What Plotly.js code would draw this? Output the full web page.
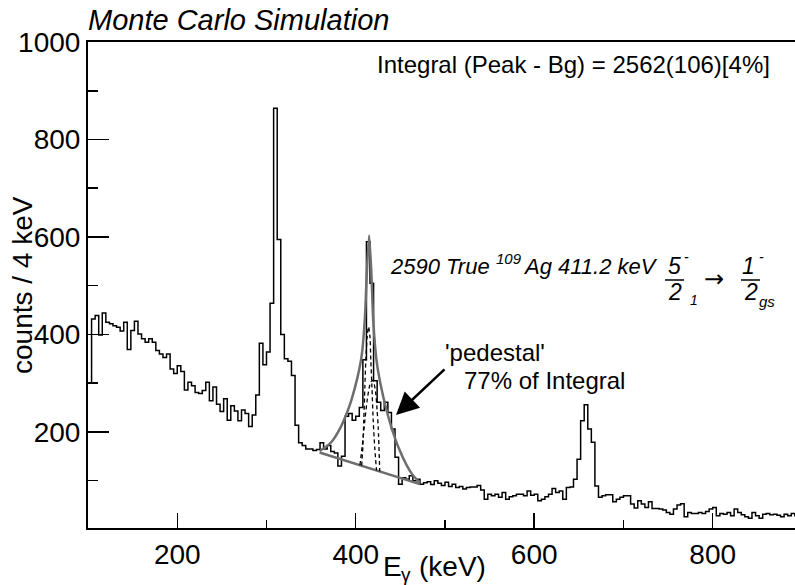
<!DOCTYPE html>
<html>
<head>
<meta charset="utf-8">
<script src="https://cdn.plot.ly/plotly-3.0.1.min.js"></script>
<style>html,body{margin:0;padding:0;background:#fff;}#chart{width:795px;height:585px;}</style>
</head>
<body>
<div id="chart"></div>
<script>
// ---- histogram (4 keV bins starting at 100 keV) ----
const binLow = 100;
const binWidth = 4;
const counts = [
 300,432,439,399,444,425,422,418,415,407,
 425,369,408,427,401,391,384,391,384,367,
 360,353,360,329,320,336,324,286,302,295,
 281,279,285,302,264,292,257,242,268,224,
 254,243,223,245,238,211,235,276,382,338,
 364,464,864,595,400,350,345,316,214,178,
 172,165,165,162,164,178,165,172,160,
 157,130,150,232,238,224,232,250,348,590,
 505,305,261,244,261,240,206,148,93,106,
 103,110,100,103,93,96,98,92,100,95,
 90,97,88,93,86,88,83,86,87,87,
 90,81,62,72,69,72,66,76,62,67,
 69,72,72,69,79,70,72,59,62,67,
 72,84,76,79,62,86,87,103,144,223,
 256,206,179,89,66,69,71,71,57,62,
 66,69,69,52,44,59,52,45,57,43,
 43,42,40,35,31,42,50,53,26,35,
 33,33,35,33,37,42,45,28,33,31,
 35,28,42,35,30,26,23,35,28,23,
 31,33,30,31,29,26,31,28,33,28
];

// ---- fit curves (keV, counts) ----
const fitE = [359.5, 365.4, 373.0, 382.3, 389.8, 395.4, 402.1, 406.7, 410.3, 412.6, 415.0, 417.4, 419.6, 423.3, 427.8, 434.6, 440.1, 447.7, 457.0, 464.5, 471.9];
const fitC = [161, 168, 180, 207, 238, 267, 313, 357, 435, 533, 603, 531, 429, 347, 298, 244, 209, 169, 132, 110, 96];
const bgE = [359.5, 471.9];
const bgC = [158, 93];
const narrowE = [406.6, 408.0, 409.0, 410.2, 411.3, 412.8, 414.4, 415.9, 416.9, 418.2, 419.6, 421.4, 423.3];
const narrowC = [131, 170, 223, 290, 347, 395, 416, 395, 347, 290, 223, 165, 121];
const broadE = [404.7, 407.5, 410.2, 412.8, 415.1, 417.0, 418.9, 420.7, 422.5, 423.9, 425.2, 426.9];
const broadC = [132, 175, 223, 265, 291, 303, 306, 298, 278, 245, 209, 119];

// ---- texts ----
const titleText = 'Monte Carlo Simulation';
const yTitle = 'counts / 4 keV';
const integralText = 'Integral (Peak - Bg) = 2562(106)[4%]';
const pedestalText = '\'pedestal\'';
const pctText = '77% of Integral';

const edges = counts.map((_, i) => binLow + i * binWidth);
edges.push(binLow + counts.length * binWidth);
const stepY = counts.concat([counts[counts.length - 1]]);

const FONT = 'Liberation Sans, Arial, Helvetica, sans-serif';
const GRAY = '#6e6e6e';

const traces = [
  {x: edges, y: stepY, type: 'scatter', mode: 'lines', line: {shape: 'hv', color: '#000', width: 1.5}, hoverinfo: 'skip'},
  {x: bgE, y: bgC, type: 'scatter', mode: 'lines', line: {color: GRAY, width: 2.5}},
  {x: narrowE, y: narrowC, type: 'scatter', mode: 'lines', line: {color: '#000', width: 1.3, dash: '4px,3px', shape: 'spline', smoothing: 0.8}},
  {x: broadE, y: broadC, type: 'scatter', mode: 'lines', line: {color: '#000', width: 1.3, dash: '4px,3px', shape: 'spline', smoothing: 0.8}},
  {x: fitE, y: fitC, type: 'scatter', mode: 'lines', line: {color: GRAY, width: 2.5, shape: 'spline', smoothing: 0.6}}
];

const L = 88, T = 42, W = 707, H = 486;
const px = x => (x - L) / W;
const py = y => (T + H - y) / H;

function ann(text, x, y, opts) {
  return Object.assign({text: text, xref: 'paper', yref: 'paper', x: px(x), y: py(y),
    xanchor: 'left', yanchor: 'middle', showarrow: false,
    font: {family: FONT, size: 24, color: '#000'}}, opts || {});
}
const ital = (s) => ({family: FONT, size: s, color: '#000', style: 'italic'});
const upr = (s) => ({family: FONT, size: s, color: '#000'});

const annotations = [
  ann(integralText, 772, 65, {xanchor: 'right'}),
  // 2590 True 109Ag 411.2 keV 5-/2_1 -> 1-/2_gs
  ann('2590 True', 388, 266, {font: ital(22)}),
  ann('109', 494, 258, {font: ital(15)}),
  ann('Ag 411.2 keV', 521, 266, {font: ital(22)}),
  ann('5', 666, 266, {font: ital(23)}),
  ann('-', 682, 257, {font: ital(14)}),
  ann('2', 666, 292, {font: ital(23)}),
  ann('1', 688, 300, {font: ital(14)}),
  ann('→', 714, 279, {xanchor: 'center', font: {family: 'DejaVu Sans, sans-serif', size: 24, color: '#000'}}),
  ann('1', 740, 266, {font: ital(23)}),
  ann('-', 757, 257, {font: ital(14)}),
  ann('2', 742, 292, {font: ital(23)}),
  ann('gs', 757, 301, {font: ital(15)}),
  ann(pedestalText, 443, 352),
  ann(pctText, 462, 380),
  {text: '', xref: 'paper', yref: 'paper', x: px(396), y: py(415), ax: 50, ay: -47,
   showarrow: true, arrowhead: 2, arrowsize: 1.8, arrowwidth: 2.5, arrowcolor: '#000'},
  ann(yTitle, 22, 285, {xanchor: 'center', textangle: -90, font: upr(28)}),
  // E_gamma (keV)
  ann('E', 381, 566, {font: upr(28)}),
  ann('γ', 399, 574, {font: upr(19)}),
  ann('(keV)', 417, 566, {font: upr(28)})
];

const shapes = [
  {type: 'line', xref: 'paper', yref: 'paper', x0: px(665), x1: px(684), y0: py(280), y1: py(280), line: {color: '#000', width: 1.5}},
  {type: 'line', xref: 'paper', yref: 'paper', x0: px(741), x1: px(760), y0: py(280), y1: py(280), line: {color: '#000', width: 1.5}}
];

const layout = {
  width: 795, height: 585,
  margin: {l: L, r: 0, t: T, b: 585 - T - H},
  paper_bgcolor: '#fff', plot_bgcolor: '#fff',
  showlegend: false,
  font: {family: FONT, color: '#000'},
  title: {text: titleText, xref: 'container', yref: 'container', x: 88 / 795, xanchor: 'left',
          y: 1 - 20 / 585, yanchor: 'middle', font: {family: FONT, size: 29, style: 'italic', color: '#000'}},
  xaxis: {range: [100, 892.2], showline: true, linewidth: 2, linecolor: '#000', mirror: true,
          ticks: 'inside', ticklen: 15, tickwidth: 1.5, tickcolor: '#000', tick0: 0, dtick: 200,
          tickfont: {family: FONT, size: 28, color: '#000'}, showgrid: false, zeroline: false,
          minor: {ticks: 'inside', ticklen: 8, tickwidth: 1.5, tickcolor: '#000', tick0: 0, dtick: 100, showgrid: false}},
  yaxis: {range: [3, 1000], showline: true, linewidth: 2, linecolor: '#000', mirror: false,
          ticks: 'inside', ticklen: 21, tickwidth: 1.5, tickcolor: '#000', tick0: 0, dtick: 200,
          tickfont: {family: FONT, size: 28, color: '#000'}, showgrid: false, zeroline: false,
          minor: {ticks: 'inside', ticklen: 10, tickwidth: 1.5, tickcolor: '#000', tick0: 0, dtick: 100, showgrid: false}},
  annotations: annotations,
  shapes: shapes
};

Plotly.newPlot('chart', traces, layout, {staticPlot: true, displayModeBar: false});
</script>
</body>
</html>
